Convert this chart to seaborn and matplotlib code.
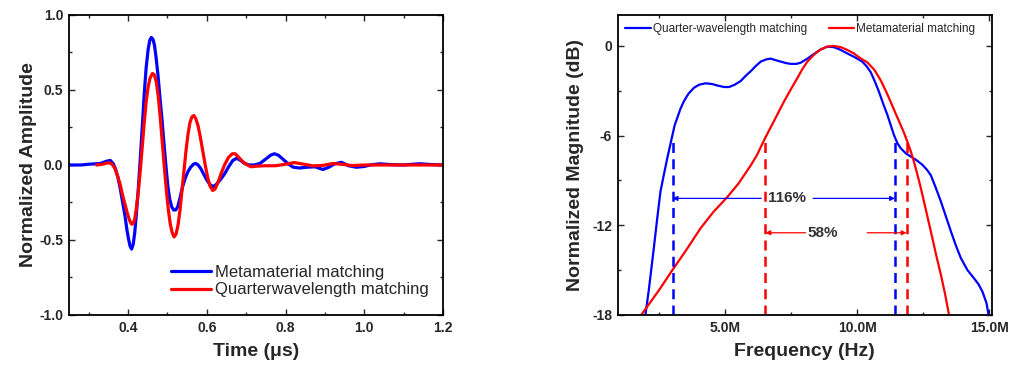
import numpy as np
import pandas as pd
import matplotlib
matplotlib.use("Agg")
import matplotlib.pyplot as plt
from matplotlib.ticker import MultipleLocator
import seaborn as sns

# ---- time domain (left) ----
meta_t = [0.25, 0.28, 0.30, 0.33, 0.345, 0.355, 0.362, 0.368, 0.374, 0.380, 0.386, 0.392,
          0.397, 0.401, 0.405, 0.409, 0.413, 0.417, 0.421, 0.426, 0.431, 0.436, 0.441,
          0.446, 0.451, 0.455, 0.459, 0.463, 0.467, 0.471, 0.476, 0.481, 0.486, 0.491,
          0.496, 0.501, 0.506, 0.511, 0.516, 0.521, 0.526, 0.532, 0.538, 0.545, 0.552,
          0.559, 0.566, 0.572, 0.578, 0.585, 0.592, 0.600, 0.608, 0.616, 0.624, 0.634,
          0.645, 0.656, 0.666, 0.676, 0.686, 0.696, 0.708, 0.72, 0.735, 0.75, 0.762,
          0.772, 0.782, 0.795, 0.808, 0.82, 0.835, 0.855, 0.875, 0.895, 0.91, 0.925,
          0.942, 0.96, 0.98, 1.0, 1.015, 1.04, 1.07, 1.1, 1.14, 1.17, 1.2]
meta_a = [0.0, 0.0, 0.005, 0.01, 0.025, 0.03, 0.01, -0.025, -0.08, -0.155, -0.245, -0.335,
          -0.43, -0.49, -0.54, -0.56, -0.53, -0.45, -0.33, -0.16, 0.04, 0.25, 0.47,
          0.65, 0.77, 0.83, 0.85, 0.84, 0.80, 0.72, 0.60, 0.45, 0.31, 0.15,
          0.0, -0.14, -0.23, -0.28, -0.30, -0.30, -0.28, -0.22, -0.15, -0.09, -0.045,
          -0.015, 0.005, 0.01, 0.0, -0.025, -0.06, -0.10, -0.13, -0.145, -0.13, -0.10,
          -0.06, -0.01, 0.03, 0.045, 0.03, 0.01, 0.0, 0.0, 0.01, 0.04, 0.065,
          0.075, 0.065, 0.035, 0.005, -0.015, -0.02, -0.015, -0.012, -0.03, -0.015, 0.008,
          0.018, -0.005, -0.015, -0.01, 0.0, 0.008, 0.002, 0.0, 0.008, 0.003, 0.0]

qw_t = [0.32, 0.335, 0.35, 0.358, 0.366, 0.373, 0.380, 0.386, 0.392, 0.398, 0.404, 0.409,
        0.413, 0.417, 0.421, 0.426, 0.431, 0.436, 0.441, 0.446, 0.451, 0.456, 0.462,
        0.467, 0.472, 0.477, 0.482, 0.487, 0.492, 0.497, 0.502, 0.507, 0.512, 0.517,
        0.522, 0.527, 0.532, 0.537, 0.542, 0.547, 0.552, 0.557, 0.562, 0.567, 0.572,
        0.578, 0.584, 0.590, 0.596, 0.602, 0.608, 0.615, 0.621, 0.628, 0.636, 0.645,
        0.655, 0.665, 0.672, 0.680, 0.690, 0.700, 0.712, 0.725, 0.75, 0.775, 0.80,
        0.822, 0.845, 0.87, 0.895, 0.92, 0.945, 0.97, 1.0, 1.2]
qw_a = [0.0, 0.005, 0.015, 0.01, -0.02, -0.07, -0.13, -0.20, -0.26, -0.32, -0.37, -0.395,
        -0.39, -0.36, -0.29, -0.18, -0.04, 0.12, 0.28, 0.42, 0.52, 0.58, 0.61,
        0.60, 0.55, 0.45, 0.31, 0.15, -0.01, -0.16, -0.29, -0.39, -0.45, -0.48,
        -0.46, -0.40, -0.30, -0.17, -0.04, 0.09, 0.20, 0.28, 0.32, 0.33, 0.31,
        0.26, 0.18, 0.09, 0.0, -0.08, -0.14, -0.17, -0.16, -0.12, -0.06, 0.0,
        0.05, 0.075, 0.075, 0.055, 0.025, 0.005, -0.012, -0.008, -0.005, -0.005, 0.005,
        0.016, 0.006, -0.006, -0.003, 0.01, 0.004, -0.004, 0.0, 0.0]

# ---- frequency domain (right), MHz / dB ----
qwf_f = [1.97, 2.1, 2.29, 2.42, 2.54, 2.67, 2.80, 2.99, 3.08, 3.18, 3.3, 3.43, 3.6, 3.81,
         4.0, 4.25, 4.5, 4.7, 4.95, 5.14, 5.35, 5.58, 5.8, 5.96, 6.15, 6.34, 6.55, 6.72,
         6.9, 7.10, 7.3, 7.48, 7.7, 7.86, 8.11, 8.35, 8.6, 8.86, 9.11, 9.35, 9.62, 9.9,
         10.19, 10.35, 10.51, 10.66, 10.82, 10.98, 11.14, 11.27, 11.39, 11.52, 11.65,
         11.85, 12.03, 12.25, 12.47, 12.65, 12.79, 12.98, 13.17, 13.36, 13.55, 13.75,
         13.93, 14.18, 14.43, 14.6, 14.75, 14.9, 14.98]
qwf_db = [-18, -16.3, -13.5, -11.5, -9.75, -8.6, -7.5, -6.0, -5.3, -4.8, -4.2, -3.7, -3.2, -2.8,
          -2.6, -2.5, -2.55, -2.65, -2.75, -2.75, -2.6, -2.35, -1.95, -1.7, -1.35, -1.05, -0.9, -0.85,
          -0.95, -1.05, -1.15, -1.2, -1.2, -1.12, -0.85, -0.55, -0.25, -0.05, -0.08, -0.25, -0.5, -0.75,
          -1.05, -1.35, -1.75, -2.35, -3.05, -3.85, -4.6, -5.3, -5.95, -6.5, -6.85,
          -7.2, -7.4, -7.65, -7.95, -8.3, -8.65, -9.5, -10.4, -11.4, -12.4, -13.4,
          -14.2, -15.0, -15.55, -15.95, -16.45, -17.2, -18]

mmf_f = [1.81, 2.5, 2.99, 3.5, 4.06, 4.55, 5.08, 5.5, 5.96, 6.2, 6.47, 6.85, 7.23, 7.5,
         7.73, 7.92, 8.11, 8.35, 8.6, 8.86, 9.1, 9.37, 9.6, 9.87, 10.1, 10.38, 10.65,
         10.89, 11.08, 11.27, 11.45, 11.65, 11.78, 11.90, 12.03, 12.15, 12.28, 12.41,
         12.6, 12.79, 12.98, 13.17, 13.33, 13.48]
mmf_db = [-18, -16.3, -15.0, -13.7, -12.2, -11.1, -10.1, -9.2, -8.0, -7.3, -6.3, -5.0, -3.7, -2.85,
          -2.15, -1.55, -1.05, -0.6, -0.25, -0.05, 0.0, -0.08, -0.25, -0.5, -0.8, -1.1, -1.6,
          -2.3, -3.0, -3.75, -4.5, -5.3, -5.85, -6.4, -7.05, -7.75, -8.6, -9.5,
          -10.95, -12.4, -13.9, -15.3, -16.6, -18]

# -6 dB band edges (MHz)
qw_band = [3.0, 11.43]
mm_band = [6.52, 11.87]
qw_label = "116%"
mm_label = "58%"

sns.set_style("ticks")
plt.rcParams['font.family'] = ['Liberation Sans', 'DejaVu Sans']
plt.rcParams['axes.unicode_minus'] = False

fig = plt.figure(figsize=(10.12, 3.67), dpi=100)
ax1 = fig.add_axes([0.0682, 0.1417, 0.3695, 0.8175])
ax2 = fig.add_axes([0.6104, 0.1417, 0.3696, 0.8175])

def style_axes(ax):
    ax.tick_params(which='both', direction='in', top=True, right=True, width=1.0,
                   labelsize=10, pad=4)
    ax.tick_params(which='major', length=4)
    ax.tick_params(which='minor', length=2.5)
    for lab in ax.get_xticklabels() + ax.get_yticklabels():
        lab.set_fontweight('bold')
    for s in ax.spines.values():
        s.set_linewidth(1.3)
        s.set_color('black')

# left panel
sns.lineplot(x=meta_t, y=meta_a, ax=ax1, color='#0000ff', lw=2.3, label='Metamaterial matching')
sns.lineplot(x=qw_t, y=qw_a, ax=ax1, color='#ff0000', lw=2.3, label='Quarterwavelength matching')
ax1.set_xlim(0.25, 1.2)
ax1.set_ylim(-1.0, 1.0)
ax1.xaxis.set_minor_locator(MultipleLocator(0.1))
ax1.yaxis.set_minor_locator(MultipleLocator(0.25))
ax1.set_xticks([0.4, 0.6, 0.8, 1.0, 1.2])
ax1.set_xticklabels(['0.4', '0.6', '0.8', '1.0', '1.2'])
ax1.set_yticks([-1.0, -0.5, 0.0, 0.5, 1.0])
ax1.set_yticklabels(['-1.0', '-0.5', '0.0', '0.5', '1.0'])
ax1.set_xlabel('Time (μs)', fontsize=14, fontweight='bold', labelpad=6)
ax1.set_ylabel('Normalized Amplitude', fontsize=14, fontweight='bold', labelpad=2)
ax1.legend(loc='lower right', bbox_to_anchor=(0.99, 0.025), frameon=False, fontsize=12,
           handlelength=2.4, handletextpad=0.25, labelspacing=0.15, borderaxespad=0.2)
style_axes(ax1)

# right panel
sns.lineplot(x=qwf_f, y=qwf_db, ax=ax2, color='#0000ff', lw=1.6, label='Quarter-wavelength matching')
sns.lineplot(x=mmf_f, y=mmf_db, ax=ax2, color='#ff0000', lw=1.6, label='Metamaterial matching')
ax2.set_xlim(0.92, 15.1)
ax2.set_ylim(-18, 2.07)
ax2.set_xticks([5, 10, 15])
ax2.set_xticklabels(['5.0M', '10.0M', '15.0M'])
ax2.xaxis.set_minor_locator(MultipleLocator(2.5))
ax2.set_yticks([-18, -12, -6, 0])
ax2.set_yticklabels(['-18', '-12', '-6', '0'])
ax2.yaxis.set_minor_locator(MultipleLocator(3))
ax2.set_xlabel('Frequency (Hz)', fontsize=14, fontweight='bold', labelpad=6)
ax2.set_ylabel('Normalized Magnitude (dB)', fontsize=14, fontweight='bold', labelpad=6)

# -6 dB markers
for f in qw_band:
    ax2.plot([f, f], [-18, -6.1], color='#0000ff', lw=1.8, ls=(0, (4, 2.5)))
for f in mm_band:
    ax2.plot([f, f], [-18, -6.0], color='#ff0000', lw=1.8, ls=(0, (4, 2.5)))

arr = dict(arrowstyle='-|>', lw=0.9, mutation_scale=7, shrinkA=0, shrinkB=0)
ax2.annotate('', xy=(qw_band[0], -10.2), xytext=(6.36, -10.2),
             arrowprops=dict(arr, color='#0000ff'))
ax2.annotate('', xy=(qw_band[1], -10.2), xytext=(8.33, -10.2),
             arrowprops=dict(arr, color='#0000ff'))
ax2.text(7.35, -10.2, qw_label, ha='center', va='center', fontsize=11,
         fontweight='bold', color='#333333')
ax2.annotate('', xy=(mm_band[0], -12.5), xytext=(8.04, -12.5),
             arrowprops=dict(arr, color='#ff0000'))
ax2.annotate('', xy=(mm_band[1], -12.5), xytext=(10.38, -12.5),
             arrowprops=dict(arr, color='#ff0000'))
ax2.text(8.69, -12.5, mm_label, ha='center', va='center', fontsize=11,
         fontweight='bold', color='#333333')

ax2.legend(loc='upper left', ncol=2, frameon=False, fontsize=8.5, handlelength=2.2,
           handletextpad=0.15, columnspacing=1.8, borderaxespad=0.25)
style_axes(ax2)

fig.savefig('out.png', dpi=100)
